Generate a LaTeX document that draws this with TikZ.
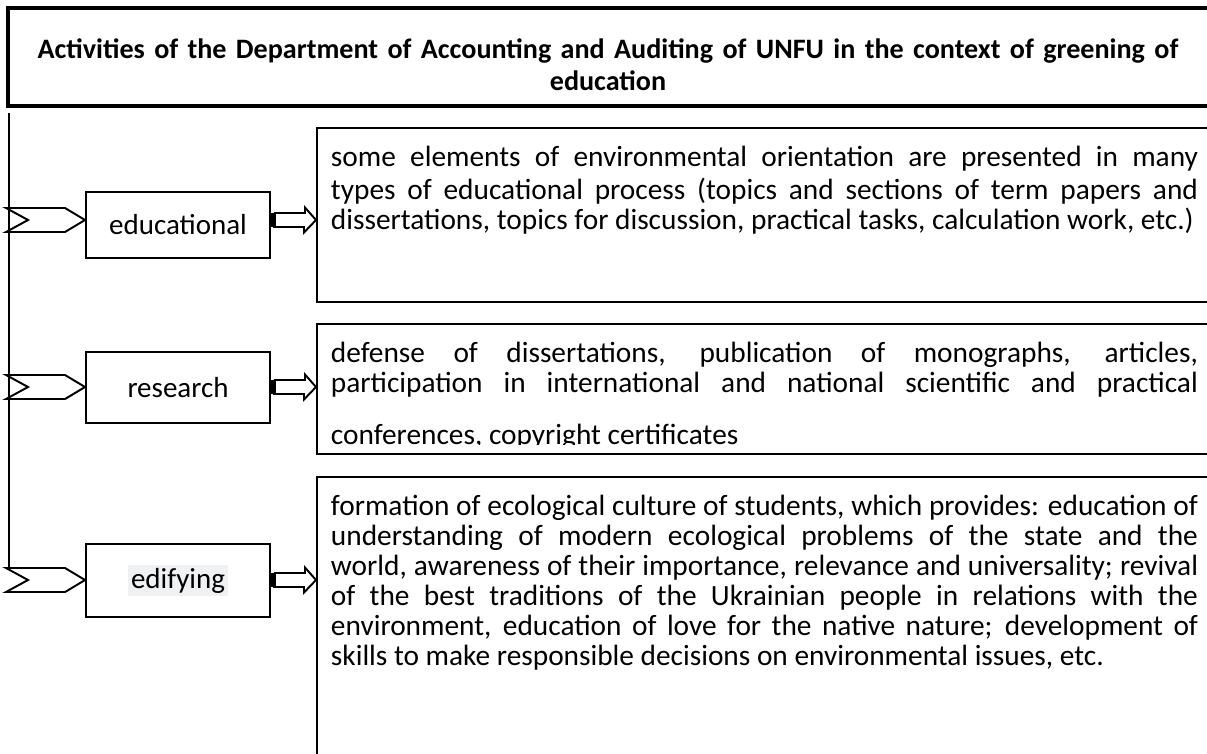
\documentclass[tikz,border=0pt]{standalone}
\usepackage{fontspec}
\setmainfont{Carlito}
\usetikzlibrary{calc,positioning}
\definecolor{labelgray}{RGB}{240,241,243}
\newcommand{\desc}{\fontsize{16.7}{17.07}\selectfont}
\newcommand{\lab}{\fontsize{16.5}{19.5}\selectfont}

\begin{document}
\begin{tikzpicture}[x=0.2mm, y=-0.2mm, line width=1.1pt,
    kind/.style={draw, minimum width=36.8mm, inner sep=0pt, font=\lab},
    info/.style={draw, anchor=north west, minimum width=182mm, inner sep=0pt},
    infotext/.style={anchor=north west, text width=173.4mm, align=justify,
      inner xsep=2.8mm, inner ysep=3.6mm, font=\desc},
    chevron/.style={draw, line join=miter},
    fatarrow/.style={draw, line join=miter}]
  \clip (0,0) rectangle (1207,753);

  \node[draw, line width=1.8pt, minimum width=241.4mm, minimum height=19.6mm] (headbox) at (611.5,57) {};
  \node[text width=236mm, align=center, font=\bfseries\fontsize{16}{18.2}\selectfont] (head) at (608,65)
    {Activities of the Department of Accounting and Auditing of UNFU in the context of greening of\\education};

  \node[kind, minimum height=13.2mm] (edu) at (178,225) {educational};
  \node[kind, minimum height=14.2mm] (res) at (178,387.5) {research};
  \node[kind, minimum height=14.6mm] (edi) at (178,580.5) {\fboxsep=1.5pt\colorbox{labelgray}{edifying}};

  \node[info, minimum height=34.8mm] (d1) at (316,127) {};
  \node[info, minimum height=26mm] (d2) at (316,323) {};
  \node[info, minimum height=60mm] (d3) at (316,476) {};

  \node[infotext] (t1) at (d1.north west) {\strut some elements of environmental orientation are presented in many\linebreak
    types of educational process (topics and sections of term papers and\linebreak
    dissertations, topics for discussion, practical tasks, calculation work, etc.)\par};
  % last line of this one is cut off by the frame
  \begin{scope}
    \clip (d2.north west) rectangle ($(d2.south east)+(0,-10)$);
    \node[infotext] (t2) at (d2.north west) {{\parfillskip=0pt \strut defense of dissertations, publication of monographs, articles,\linebreak
      participation in international and national scientific and practical\par}\vspace{4.4mm}
      conferences, copyright certificates};
  \end{scope}
  \node[infotext] (t3) at (d3.north west) {\strut formation of ecological culture of students, which provides: education of\linebreak
    understanding of modern ecological problems of the state and the\linebreak
    world, awareness of their importance, relevance and universality; revival\linebreak
    of the best traditions of the Ukrainian people in relations with the\linebreak
    environment, education of love for the native nature; development of\linebreak
    skills to make responsible decisions on environmental issues, etc.};

  % spine and the arrows of each kind
  \coordinate (spine) at (9,113);
  \draw (spine) -- (spine |- 0,568);
  \foreach \k/\d/\y in {edu/d1/220, res/d2/387, edi/d3/580} {
    \draw[chevron] (\k.west |- 0,\y) -- ++(-20,-12) -- ++(-59,0) -- ++(22,12) -- ++(-22,12) -- ++(59,0) -- cycle;
    \fill (\k.east |- 0,\y) ++(0,-7) rectangle ++(5,14);
    \draw[fatarrow] (\k.east |- 0,\y) ++(3,-7) -- ++(31,0) -- ++(0,-5.5) -- (\d.west |- 0,\y)
      -- ++(-12,12.5) -- ++(0,-5.5) -- ++(-31,0);
  }
\end{tikzpicture}
\end{document}
